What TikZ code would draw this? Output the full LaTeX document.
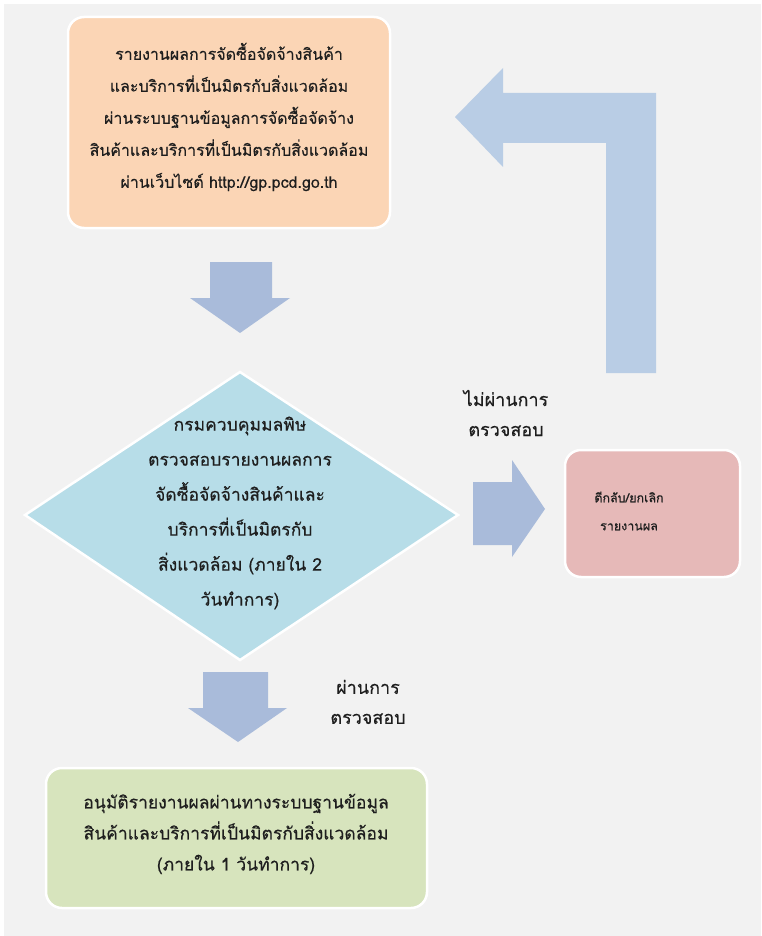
\documentclass[tikz,border=0pt]{standalone}
\usepackage{fontspec}
\newfontfamily\thai[Script=Thai,FakeBold=0.4]{Loma}
\definecolor{bgc}{HTML}{F2F2F2}
\definecolor{orangef}{HTML}{FBD5B5}
\definecolor{bluef}{HTML}{B7DDE8}
\definecolor{pinkf}{HTML}{E6B9B8}
\definecolor{greenf}{HTML}{D7E4BD}
\definecolor{arrowf}{HTML}{A9BBDA}
\definecolor{arrowl}{HTML}{B9CDE5}
\definecolor{txt}{HTML}{1E1E1E}
\tikzset{
  boxshape/.style={rounded corners=16pt, draw=white, line width=2.5pt},
  boxtext/.style={align=center, text=txt, inner sep=0pt},
  blockarrow/.style={fill=arrowf, draw=none},
}
\begin{document}
\begin{tikzpicture}[x=1pt,y=-1pt]
\useasboundingbox (0,0) rectangle (761,936);
\fill[white] (0,0) rectangle (761,936);
\fill[bgc] (4,4) rectangle (761,936);

% orange box
\draw[boxshape, fill=orangef] (68,17) rectangle (390,228);
\node[boxtext, font={\thai\fontsize{16}{32}\selectfont}] (a) at (229,117) {รายงานผลการจัดซื้อจัดจ้างสินค้า\\และบริการที่เป็นมิตรกับสิ่งแวดล้อม\\ผ่านระบบฐานข้อมูลการจัดซื้อจัดจ้าง\\สินค้าและบริการที่เป็นมิตรกับสิ่งแวดล้อม\\ผ่านเว็บไซต์ http://gp.pcd.go.th};

% down arrow 1
\fill[blockarrow] (210,262) -- (272,262) -- (272,298) -- (290,298) -- (240,333) -- (190,298) -- (210,298) -- cycle;

% L arrow back
\fill[arrowl] (606,373) -- (656,373) -- (656,93) -- (503,93) -- (503,68) -- (455,117) -- (503,167) -- (503,143) -- (606,143) -- cycle;

% diamond
\draw[fill=bluef, draw=white, line width=2.5pt] (25,515) -- (240,372) -- (458,515) -- (240,660) -- cycle;
\node[boxtext, font={\thai\fontsize{17.5}{35}\selectfont}] (d) at (240,513) {กรมควบคุมมลพิษ\\ตรวจสอบรายงานผลการ\\จัดซื้อจัดจ้างสินค้าและ\\บริการที่เป็นมิตรกับ\\สิ่งแวดล้อม (ภายใน 2\\วันทำการ)};

% right arrow
\fill[blockarrow] (473,482) -- (512,482) -- (512,460) -- (545,509) -- (512,557) -- (512,545) -- (473,545) -- cycle;
\node[boxtext, font={\thai\fontsize{18}{30}\selectfont}] (l1) at (506,413) {ไม่ผ่านการ\\ตรวจสอบ};

% pink box
\draw[boxshape, fill=pinkf] (565,450) rectangle (740,577);
\node[boxtext, font={\thai\fontsize{12.5}{28}\selectfont}] (p) at (629,511) {ตีกลับ/ยกเลิก\\รายงานผล};

% down arrow 2
\fill[blockarrow] (203,672) -- (268,672) -- (268,708) -- (287,708) -- (238,742) -- (188,708) -- (203,708) -- cycle;
\node[boxtext, font={\thai\fontsize{18}{30}\selectfont}] (l2) at (368,702) {ผ่านการ\\ตรวจสอบ};

% green box
\draw[boxshape, fill=greenf] (46,768) rectangle (427,908);
\node[boxtext, font={\thai\fontsize{17.5}{31}\selectfont}] (g) at (236,834) {อนุมัติรายงานผลผ่านทางระบบฐานข้อมูล\\สินค้าและบริการที่เป็นมิตรกับสิ่งแวดล้อม\\(ภายใน 1 วันทำการ)};
\end{tikzpicture}
\end{document}
